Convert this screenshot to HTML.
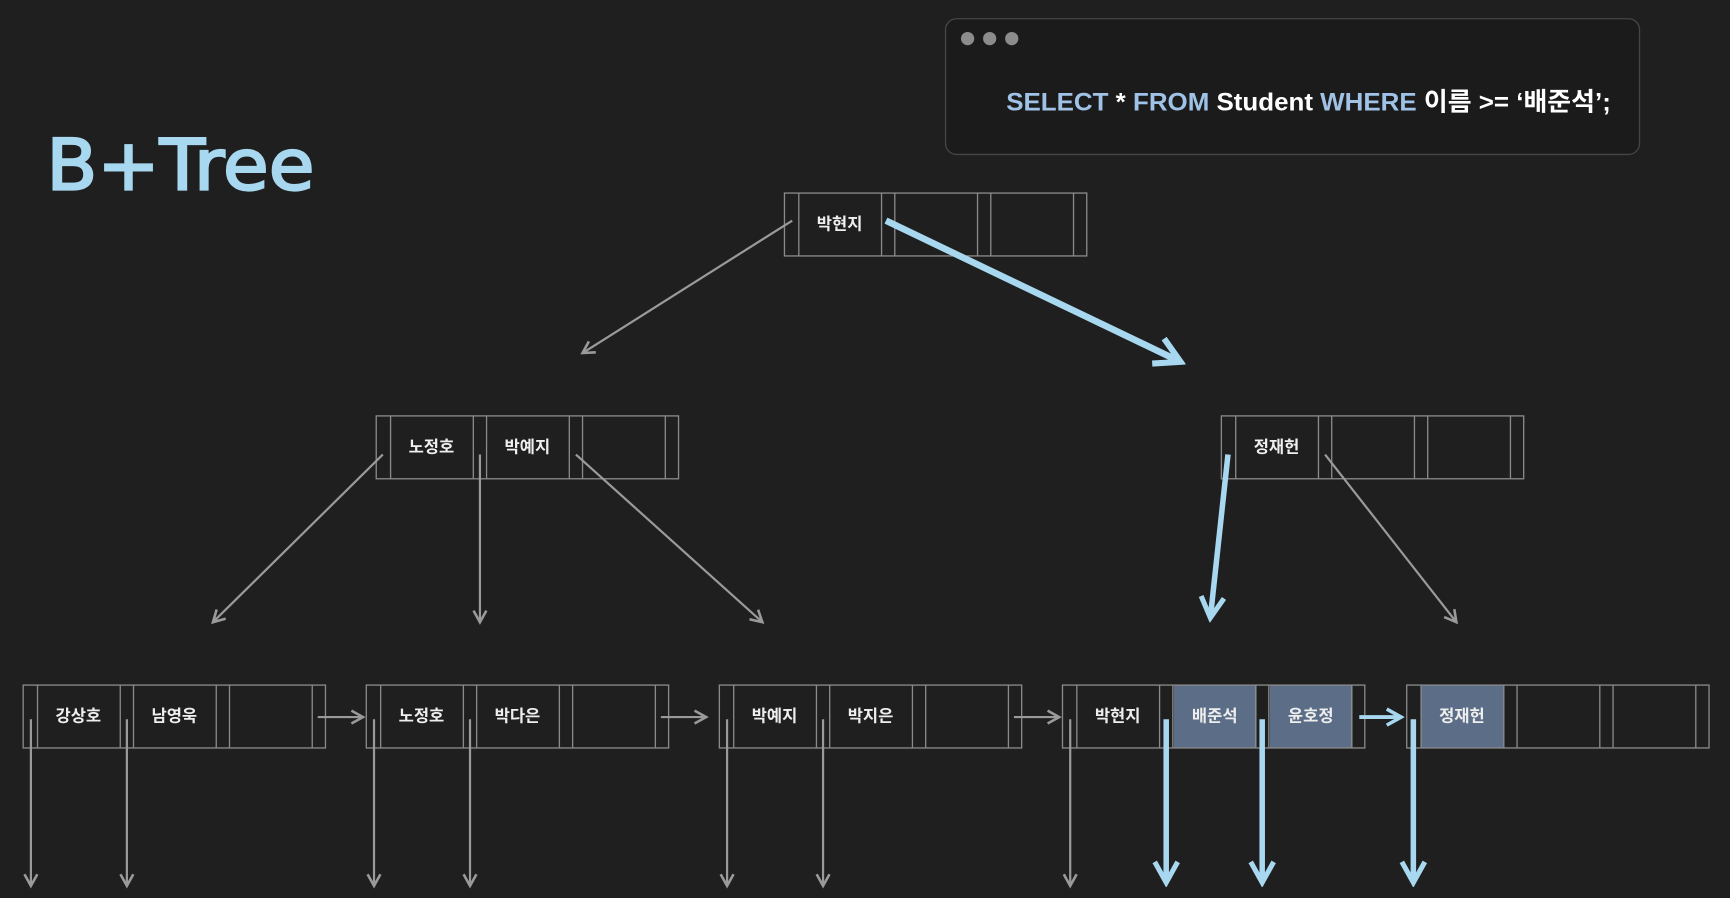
<!DOCTYPE html>
<html><head><meta charset="utf-8"><style>
html,body{margin:0;padding:0;background:#1f1f1f;}
svg{display:block;}
text{font-family:"Liberation Sans","Noto Sans CJK KR",sans-serif;}
.k{fill:#eeeeee;font-size:15px;font-weight:bold;text-anchor:middle;}
</style></head><body>
<svg width="1730" height="898" viewBox="0 0 1568 814" preserveAspectRatio="none" xmlns="http://www.w3.org/2000/svg">
<defs>
<marker id="ga" viewBox="0 0 12 12" refX="10" refY="6" markerWidth="14" markerHeight="14" markerUnits="userSpaceOnUse" orient="auto"><path d="M1,1 L10,6 L1,11" fill="none" stroke="#9a9a9a" stroke-width="2"/></marker>
<marker id="ba" viewBox="0 0 12 12" refX="10" refY="6" markerWidth="5" markerHeight="5" orient="auto"><path d="M1,1 L10,6 L1,11" fill="none" stroke="#a8d8f0" stroke-width="2.2"/></marker>
<g id="node" fill="none" stroke="#8a8a8a" stroke-width="1.2">
<rect x="0" y="0" width="274" height="57"/>
<line x1="13" y1="0" x2="13" y2="57"/><line x1="88" y1="0" x2="88" y2="57"/>
<line x1="100" y1="0" x2="100" y2="57"/><line x1="175" y1="0" x2="175" y2="57"/>
<line x1="187" y1="0" x2="187" y2="57"/><line x1="262" y1="0" x2="262" y2="57"/>
</g>
</defs>
<rect width="1568" height="814" fill="#1f1f1f"/>

<!-- code box -->
<rect x="857" y="17" width="629" height="123" rx="10" fill="#1b1b1b" stroke="#454545" stroke-width="1.2"/>
<circle cx="877" cy="35" r="6" fill="#8c8c8c"/><circle cx="897" cy="35" r="6" fill="#8c8c8c"/><circle cx="917" cy="35" r="6" fill="#8c8c8c"/>
<text x="912" y="100" font-size="23" font-weight="bold" fill="#ffffff" textLength="548" lengthAdjust="spacingAndGlyphs"><tspan fill="#9fc2e6">SELECT</tspan>  *  <tspan fill="#9fc2e6">FROM</tspan> Student <tspan fill="#9fc2e6">WHERE</tspan> 이름 &gt;= ‘배준석’;</text>

<!-- title -->
<text x="42" y="172" font-size="64" fill="#a8d8f0" stroke="#a8d8f0" stroke-width="2" style="font-family:'DejaVu Sans',sans-serif" letter-spacing="0" textLength="243" lengthAdjust="spacingAndGlyphs">B+Tree</text>

<!-- highlighted cells -->
<rect x="1064" y="621" width="75" height="57" fill="#5c6e87"/>
<rect x="1151" y="621" width="75" height="57" fill="#5c6e87"/>
<rect x="1288" y="621" width="75" height="57" fill="#5c6e87"/>

<!-- nodes -->
<use href="#node" x="711" y="175"/>
<use href="#node" x="341" y="377"/>
<use href="#node" x="1107" y="377"/>
<use href="#node" x="21" y="621"/>
<use href="#node" x="332" y="621"/>
<use href="#node" x="652" y="621"/>
<use href="#node" x="963" y="621"/>
<use href="#node" x="1275" y="621"/>

<text class="k" x="761" y="208">박현지</text>
<text class="k" x="391" y="410">노정호</text>
<text class="k" x="478" y="410">박예지</text>
<text class="k" x="1157" y="410">정재헌</text>
<text class="k" x="71" y="654">강상호</text>
<text class="k" x="158" y="654">남영욱</text>
<text class="k" x="382" y="654">노정호</text>
<text class="k" x="469" y="654">박다은</text>
<text class="k" x="702" y="654">박예지</text>
<text class="k" x="789" y="654">박지은</text>
<text class="k" x="1013" y="654">박현지</text>
<text class="k" x="1101" y="654">배준석</text>
<text class="k" x="1188" y="654">윤호정</text>
<text class="k" x="1325" y="654">정재헌</text>

<!-- gray arrows -->
<g stroke="#9a9a9a" stroke-width="2" fill="none" marker-end="url(#ga)">
<line x1="718" y1="200" x2="528" y2="320"/>
<line x1="347" y1="412" x2="193" y2="564"/>
<line x1="435" y1="412" x2="435" y2="564"/>
<line x1="522" y1="412" x2="691" y2="564"/>
<line x1="1201" y1="412" x2="1320" y2="564"/>
<line x1="288" y1="650" x2="329" y2="650"/>
<line x1="599" y1="650" x2="640" y2="650"/>
<line x1="919" y1="650" x2="960" y2="650"/>
<line x1="28" y1="652" x2="28" y2="803"/>
<line x1="115" y1="652" x2="115" y2="803"/>
<line x1="339" y1="652" x2="339" y2="803"/>
<line x1="426" y1="652" x2="426" y2="803"/>
<line x1="659" y1="652" x2="659" y2="803"/>
<line x1="746" y1="652" x2="746" y2="803"/>
<line x1="970" y1="652" x2="970" y2="803"/>
</g>

<!-- blue arrows -->
<g stroke="#a8d8f0" fill="none" marker-end="url(#ba)">
<line x1="803" y1="200" x2="1070" y2="328" stroke-width="6"/>
<line x1="1113" y1="412" x2="1097" y2="560" stroke-width="5"/>
<line x1="1232" y1="650" x2="1270" y2="650" stroke-width="3.5"/>
<line x1="1057" y1="652" x2="1057" y2="800" stroke-width="5"/>
<line x1="1144" y1="652" x2="1144" y2="800" stroke-width="5"/>
<line x1="1281" y1="652" x2="1281" y2="800" stroke-width="5"/>
</g>
</svg>
</body></html>
